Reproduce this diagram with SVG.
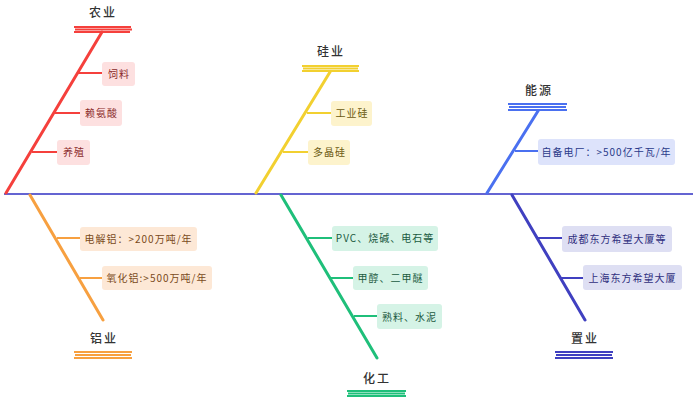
<svg xmlns="http://www.w3.org/2000/svg" width="700" height="402" viewBox="0 0 700 402">
<style>
text{font-family:"Noto Sans CJK SC","Noto Sans",sans-serif;}
.t{font-size:12px;fill:#333;text-anchor:middle;letter-spacing:2px;font-weight:500}
.s{font-size:10px;text-anchor:middle;letter-spacing:1px}
.bone{stroke-width:3;stroke-linecap:round;fill:none}
.sub{stroke-width:2;fill:none}
.bar{stroke-width:2.2;fill:none}
.box{stroke:none}
</style>
<rect width="700" height="402" fill="#fff"/>
<g id="connectors">
<line x1="4" y1="194" x2="693" y2="194" stroke="#6464d2" stroke-width="2"/>
<line class="bone" x1="6" y1="193" x2="102" y2="32" stroke="#f5403c"/>
<line class="sub" x1="78" y1="73" x2="103" y2="73" stroke="#f5403c"/>
<line class="sub" x1="55" y1="113" x2="80" y2="113" stroke="#f5403c"/>
<line class="sub" x1="32" y1="152" x2="57" y2="152" stroke="#f5403c"/>
<line class="bone" x1="256" y1="193" x2="330" y2="72" stroke="#f2d030"/>
<line class="sub" x1="307" y1="113" x2="331" y2="113" stroke="#f2d030"/>
<line class="sub" x1="283" y1="152" x2="308" y2="152" stroke="#f2d030"/>
<line class="bone" x1="487" y1="193" x2="538" y2="111" stroke="#4a70f0"/>
<line class="sub" x1="515" y1="151" x2="538" y2="151" stroke="#4a70f0"/>
<line class="bone" x1="30" y1="195" x2="103" y2="320" stroke="#f7a040"/>
<line class="sub" x1="57" y1="238" x2="80" y2="238" stroke="#f7a040"/>
<line class="sub" x1="80" y1="278" x2="102" y2="278" stroke="#f7a040"/>
<line class="bone" x1="281" y1="195" x2="377" y2="358" stroke="#1fbf7a"/>
<line class="sub" x1="308" y1="238" x2="332" y2="238" stroke="#1fbf7a"/>
<line class="sub" x1="330" y1="278" x2="353" y2="278" stroke="#1fbf7a"/>
<line class="sub" x1="354" y1="316" x2="377" y2="316" stroke="#1fbf7a"/>
<line class="bone" x1="512" y1="195" x2="585" y2="320" stroke="#4040c0"/>
<line class="sub" x1="537" y1="238" x2="562" y2="238" stroke="#4040c0"/>
<line class="sub" x1="560" y1="278" x2="583" y2="278" stroke="#4040c0"/>
</g>
<g id="agri">
<text class="t" x="103" y="17">农业</text>
<g class="bar" stroke="#f5403c"><line x1="74" y1="27" x2="131" y2="27"/><line x1="75" y1="29.5" x2="132" y2="29.5"/><line x1="74" y1="32" x2="130" y2="32"/></g>
<rect class="box" x="102" y="62" width="33" height="24" rx="3" fill="#fde0e0"/>
<text class="s" x="119" y="77.5" fill="#8a2a2a">饲料</text>
<rect class="box" x="80" y="100" width="42" height="26" rx="3" fill="#fde0e0"/>
<text class="s" x="101.5" y="117" fill="#8a2a2a">赖氨酸</text>
<rect class="box" x="57" y="140" width="33" height="25" rx="3" fill="#fde0e0"/>
<text class="s" x="74" y="156" fill="#8a2a2a">养殖</text>
</g>
<g id="silicon">
<text class="t" x="331" y="56">硅业</text>
<g class="bar" stroke="#f2d030"><line x1="302" y1="66" x2="359" y2="66"/><line x1="303" y1="68.5" x2="358" y2="68.5"/><line x1="302" y1="71" x2="359" y2="71"/></g>
<rect class="box" x="331" y="101" width="41" height="25" rx="3" fill="#fdf3cc"/>
<text class="s" x="352" y="117" fill="#6b5a10">工业硅</text>
<rect class="box" x="308" y="140" width="42" height="25" rx="3" fill="#fdf3cc"/>
<text class="s" x="329.5" y="156" fill="#6b5a10">多晶硅</text>
</g>
<g id="energy">
<text class="t" x="539" y="95">能源</text>
<g class="bar" stroke="#4a70f0"><line x1="508" y1="104" x2="567" y2="104"/><line x1="509" y1="107" x2="566" y2="107"/><line x1="508" y1="110" x2="567" y2="110"/></g>
<rect class="box" x="538" y="139" width="137" height="26" rx="3" fill="#dde3fb"/>
<text class="s" x="606.5" y="156" fill="#2a3a8a">自备电厂：&gt;500亿千瓦/年</text>
</g>
<g id="aluminum">
<text class="t" x="104" y="343">铝业</text>
<g class="bar" stroke="#f7a040"><line x1="74" y1="352" x2="132" y2="352"/><line x1="75" y1="355" x2="131" y2="355"/><line x1="74" y1="358" x2="132" y2="358"/></g>
<rect class="box" x="80" y="227" width="117" height="24" rx="3" fill="#fde8d6"/>
<text class="s" x="138.5" y="242.5" fill="#7a4a20">电解铝：&gt;200万吨/年</text>
<rect class="box" x="102" y="266" width="110" height="24" rx="3" fill="#fde8d6"/>
<text class="s" x="157" y="281.5" fill="#7a4a20">氧化铝:&gt;500万吨/年</text>
</g>
<g id="chemical">
<text class="t" x="377" y="383">化工</text>
<g class="bar" stroke="#1fbf7a"><line x1="347" y1="391" x2="406" y2="391"/><line x1="348" y1="393.5" x2="405" y2="393.5"/><line x1="347" y1="396" x2="406" y2="396"/></g>
<rect class="box" x="332" y="226" width="106" height="25" rx="3" fill="#d5f3e6"/>
<text class="s" x="385" y="242" fill="#1a5a40">PVC、烧碱、电石等</text>
<rect class="box" x="353" y="266" width="75" height="24" rx="3" fill="#d5f3e6"/>
<text class="s" x="390.5" y="281.5" fill="#1a5a40">甲醇、二甲醚</text>
<rect class="box" x="377" y="304" width="65" height="25" rx="3" fill="#d5f3e6"/>
<text class="s" x="409.5" y="320.5" fill="#1a5a40">熟料、水泥</text>
</g>
<g id="realestate">
<text class="t" x="585" y="343">置业</text>
<g class="bar" stroke="#4040c0"><line x1="555" y1="352" x2="613" y2="352"/><line x1="556" y1="355" x2="612" y2="355"/><line x1="555" y1="358" x2="613" y2="358"/></g>
<rect class="box" x="562" y="226" width="110" height="26" rx="3" fill="#dedff3"/>
<text class="s" x="617" y="242.5" fill="#303080">成都东方希望大厦等</text>
<rect class="box" x="583" y="265" width="99" height="25" rx="3" fill="#dedff3"/>
<text class="s" x="632.5" y="281.5" fill="#303080">上海东方希望大厦</text>
</g>
</svg>
